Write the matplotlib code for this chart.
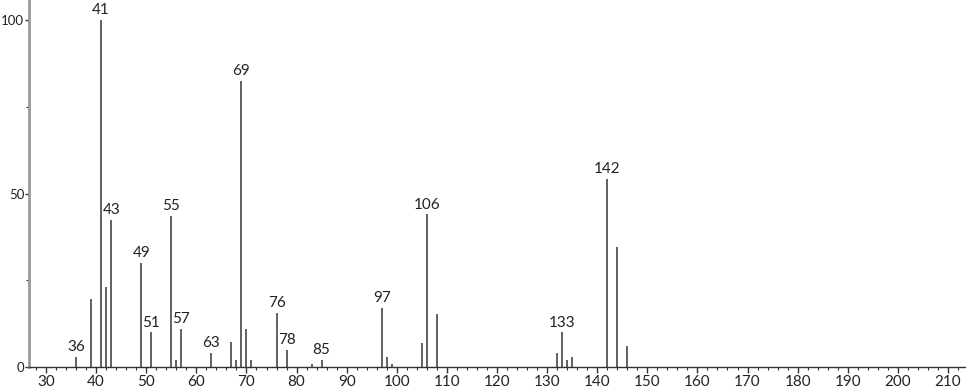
import numpy as np
import matplotlib
matplotlib.use('Agg')
import matplotlib.pyplot as plt
from matplotlib.ticker import MultipleLocator

mz = [36, 39, 41, 42, 43, 49, 51, 55, 56, 57, 63, 67, 68, 69, 70, 71, 76, 78,
      83, 85, 97, 98, 99, 105, 106, 108, 132, 133, 134, 135, 142, 144, 146]
intensity = [3, 19.5, 100, 23, 42.3, 30, 10, 43.5, 2, 11, 4, 7.3, 2, 82.5, 11, 2,
             15.5, 5, 1, 2, 17, 3, 1, 6.8, 44, 15.2, 4, 10, 2, 2.8, 54.3, 34.6, 6]
labeled = [36, 41, 43, 49, 51, 55, 57, 63, 69, 76, 78, 85, 97, 106, 133, 142]

plt.rcParams['font.family'] = ['Lato', 'DejaVu Sans']

fig = plt.figure(figsize=(9.66, 3.89), dpi=100)
ax = fig.add_axes([29 / 966, 22 / 389, 937 / 966, 367 / 389])

ax.vlines(mz, 0, intensity, colors='#555555', linewidth=1.3)

for m, v in zip(mz, intensity):
    if m in labeled:
        ax.annotate(str(m), (m, v), xytext=(0, 2), textcoords='offset points',
                    ha='center', va='bottom', fontsize=11, color='#222222')

ax.set_xlim(26.6, 213.6)
ax.set_ylim(0, 105.8)

ax.spines['top'].set_visible(False)
ax.spines['right'].set_visible(False)
ax.spines['left'].set_color('#999999')
ax.spines['left'].set_linewidth(2)
ax.spines['bottom'].set_color('#333333')
ax.spines['bottom'].set_linewidth(1)

ax.xaxis.set_major_locator(MultipleLocator(10))
ax.xaxis.set_minor_locator(MultipleLocator(2))
ax.yaxis.set_major_locator(MultipleLocator(50))
ax.yaxis.set_minor_locator(MultipleLocator(25))

ax.tick_params(axis='x', which='major', length=4, width=1, color='#333333',
               labelsize=11, labelcolor='#222222', pad=2)
ax.tick_params(axis='x', which='minor', length=2, width=0.8, color='#333333')
ax.tick_params(axis='y', which='major', length=3, width=1, color='#333333',
               labelsize=9.5, labelcolor='#222222', pad=0.5)
ax.tick_params(axis='y', which='minor', length=2, width=0.8, color='#333333')

plt.savefig('out.png', dpi=100)
